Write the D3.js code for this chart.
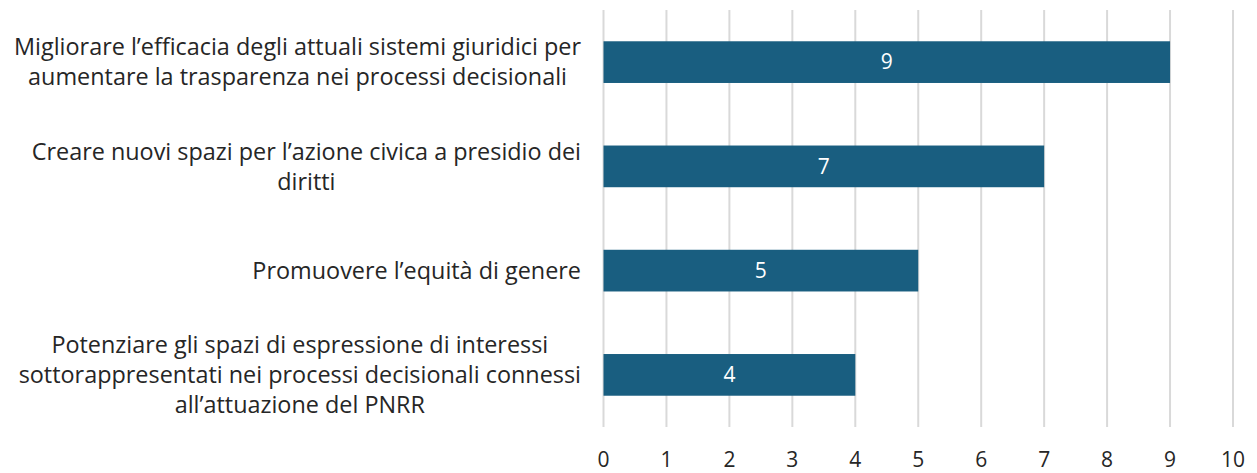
<!DOCTYPE html>
<html>
<head>
<meta charset="utf-8">
<script src="https://cdn.jsdelivr.net/npm/d3@7"></script>
<style>
  body { margin: 0; background: #fff; }
  svg { display: block; font-family: "Open Sans", "Noto Sans", sans-serif; }
</style>
</head>
<body>
<div id="chart"></div>
<script>
const categories = [
  ['Migliorare l\u2019efficacia degli attuali sistemi giuridici per', 'aumentare la trasparenza nei processi decisionali'],
  ['Creare nuovi spazi per l\u2019azione civica a presidio dei', 'diritti'],
  ['Promuovere l\u2019equit\u00e0 di genere'],
  ['Potenziare gli spazi di espressione di interessi', 'sottorappresentati nei processi decisionali connessi', 'all\u2019attuazione del PNRR']
];
const values = [9, 7, 5, 4];
const xTicks = [0, 1, 2, 3, 4, 5, 6, 7, 8, 9, 10];

const width = 1257;
const height = 473;
const margin = { top: 10, right: 24, bottom: 46, left: 603.5 };

const svg = d3.select('#chart')
  .append('svg')
  .attr('width', width)
  .attr('height', height);

const x = d3.scaleLinear()
  .domain([0, 10])
  .range([margin.left, width - margin.right]);

const y = d3.scaleBand()
  .domain(d3.range(values.length))
  .range([margin.top, height - margin.bottom])
  .paddingInner(0.6)
  .paddingOuter(0.3);

// gridlines
svg.append('g')
  .selectAll('line')
  .data(xTicks)
  .join('line')
  .attr('x1', d => x(d))
  .attr('x2', d => x(d))
  .attr('y1', margin.top)
  .attr('y2', height - margin.bottom)
  .attr('stroke', '#d9d9d9')
  .attr('stroke-width', 2);

// tick labels
svg.append('g')
  .selectAll('text')
  .data(xTicks)
  .join('text')
  .attr('x', d => x(d))
  .attr('y', 460)
  .attr('dy', '0.35em')
  .attr('text-anchor', 'middle')
  .attr('font-size', 21)
  .attr('fill', '#262626')
  .text(d => d);

// bars
svg.append('g')
  .selectAll('rect')
  .data(values)
  .join('rect')
  .attr('x', x(0))
  .attr('y', (d, i) => y(i))
  .attr('width', d => x(d) - x(0))
  .attr('height', y.bandwidth())
  .attr('fill', '#195e80');

// value labels
svg.append('g')
  .selectAll('text')
  .data(values)
  .join('text')
  .attr('x', d => (x(0) + x(d)) / 2)
  .attr('y', (d, i) => y(i) + y.bandwidth() / 2)
  .attr('dy', '0.35em')
  .attr('text-anchor', 'middle')
  .attr('font-size', 21)
  .attr('fill', '#fff')
  .text(d => d);

// category labels: block right-aligned, lines centred within block
const lineHeight = 30;
const labelRight = 581;
categories.forEach((lines, i) => {
  const cy = y(i) + y.bandwidth() / 2;
  const g = svg.append('g');
  const texts = g.selectAll('text')
    .data(lines)
    .join('text')
    .attr('y', (d, j) => cy + (j - (lines.length - 1) / 2) * lineHeight)
    .attr('dy', '0.35em')
    .attr('text-anchor', 'middle')
    .attr('font-size', 23.4)
    .attr('fill', '#262626')
    .text(d => d);
  let maxW = 0;
  texts.each(function () { maxW = Math.max(maxW, this.getComputedTextLength()); });
  texts.attr('x', labelRight - maxW / 2);
});
</script>
</body>
</html>
